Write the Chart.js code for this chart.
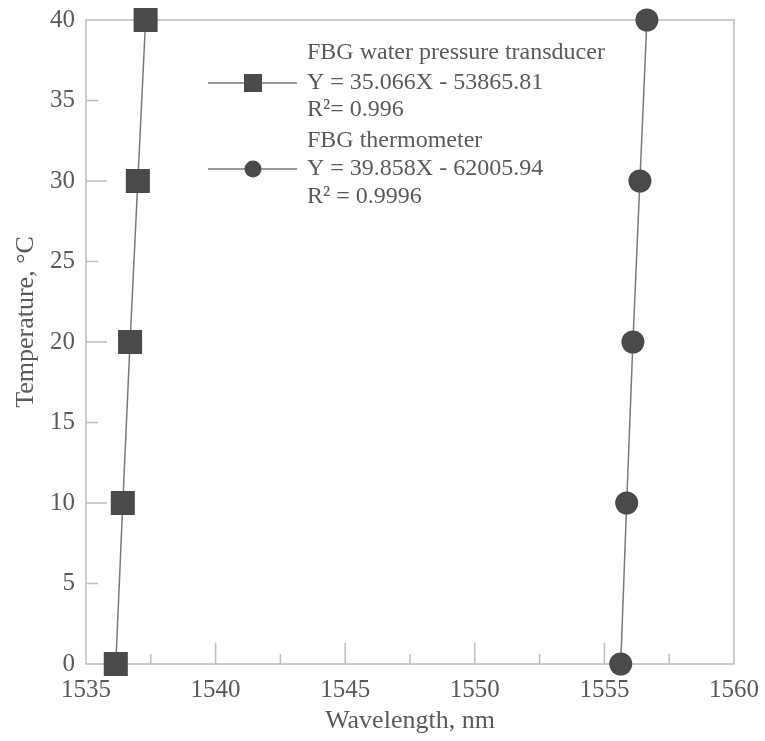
<!DOCTYPE html>
<html>
<head>
<meta charset="utf-8">
<script src="https://cdn.jsdelivr.net/npm/chart.js@4.4.1/dist/chart.umd.min.js"></script>
<style>
  html, body { margin: 0; padding: 0; background: #fff; }
  #wrap { width: 765px; height: 741px; }
</style>
</head>
<body>
<div id="wrap"><canvas id="chart"></canvas></div>
<script>
// Temperature steps (y) and measured wavelengths (x)
const temperatures = [0, 10, 20, 30, 40];
const transducerWavelength = [1536.15, 1536.42, 1536.70, 1537.00, 1537.30];
const thermometerWavelength = [1555.63, 1555.86, 1556.10, 1556.37, 1556.64];

const seriesNames = ["FBG water pressure transducer", "FBG thermometer"];
const transducerFit = ["Y = 35.066X - 53865.81", "R²= 0.996"];
const thermometerFit = ["Y = 39.858X - 62005.94", "R² = 0.9996"];

const xTitle = "Wavelength, nm";
const yTitle = "Temperature, °C";

const textColor = "#5a5a5a";
const markColor = "#4a4a4a";
const lineColor = "#7a7a7a";
const frameColor = "#bdbdbd";
const serif = "'Liberation Serif', 'Times New Roman', serif";

function points(xs) {
    return temperatures.map((t, i) => ({x: xs[i], y: t}));
}

// frame, inward ticks, legend and y title
const decor = {
    id: "decor",
    beforeDatasetsDraw(chart) {
        const {ctx, chartArea: a, scales: {x, y}} = chart;
        ctx.save();
        ctx.strokeStyle = frameColor;
        ctx.lineWidth = 1.5;
        ctx.strokeRect(a.left, a.top, a.right - a.left, a.bottom - a.top);

        ctx.beginPath();
        for (let v = 1537.5; v < 1560; v += 2.5) {
            const px = x.getPixelForValue(v);
            const len = v % 5 === 0 ? 21 : 10;
            ctx.moveTo(px, a.bottom);
            ctx.lineTo(px, a.bottom - len);
        }
        for (let v = 5; v < 40; v += 5) {
            const py = y.getPixelForValue(v);
            const len = v % 10 === 0 ? 21 : 12;
            ctx.moveTo(a.left, py);
            ctx.lineTo(a.left + len, py);
        }
        ctx.stroke();
        ctx.restore();
    },
    afterDraw(chart) {
        const ctx = chart.ctx;
        ctx.save();

        // legend
        const rows = [
            [seriesNames[0], 53], [transducerFit[0], 83], [transducerFit[1], 110],
            [seriesNames[1], 141], [thermometerFit[0], 169], [thermometerFit[1], 197]
        ];
        ctx.fillStyle = textColor;
        ctx.font = "24px " + serif;
        ctx.textBaseline = "middle";
        ctx.textAlign = "left";
        rows.forEach(r => ctx.fillText(r[0], 307, r[1]));

        ctx.strokeStyle = lineColor;
        ctx.lineWidth = 1.5;
        ctx.beginPath();
        ctx.moveTo(208, 83); ctx.lineTo(297, 83);
        ctx.moveTo(208, 169); ctx.lineTo(297, 169);
        ctx.stroke();
        ctx.fillStyle = markColor;
        ctx.fillRect(253 - 9, 83 - 9, 18, 18);
        ctx.beginPath();
        ctx.arc(253, 169, 8.5, 0, Math.PI * 2);
        ctx.fill();

        // y title
        ctx.translate(26, 322);
        ctx.rotate(-Math.PI / 2);
        ctx.textAlign = "center";
        ctx.fillStyle = textColor;
        ctx.font = "26px " + serif;
        ctx.fillText(yTitle, 0, 0);
        ctx.restore();
    }
};

new Chart(document.getElementById("chart"), {
    type: "scatter",
    data: {
        datasets: [
            {
                label: seriesNames[0],
                data: points(transducerWavelength),
                showLine: true,
                borderColor: lineColor,
                borderWidth: 1.5,
                pointStyle: "rect",
                pointRadius: 17,
                pointBackgroundColor: markColor,
                pointBorderWidth: 0,
                clip: false
            },
            {
                label: seriesNames[1],
                data: points(thermometerWavelength),
                showLine: true,
                borderColor: lineColor,
                borderWidth: 1.5,
                pointStyle: "circle",
                pointRadius: 11.5,
                pointBackgroundColor: markColor,
                pointBorderWidth: 0,
                clip: false
            }
        ]
    },
    options: {
        responsive: true,
        maintainAspectRatio: false,
        animation: false,
        events: [],
        layout: {padding: {top: 20, right: 31, left: 0, bottom: 0}},
        plugins: {legend: {display: false}, tooltip: {enabled: false}},
        scales: {
            x: {
                type: "linear",
                min: 1535,
                max: 1560,
                grid: {display: false, drawTicks: false},
                border: {display: false},
                ticks: {
                    stepSize: 5,
                    padding: 11,
                    color: textColor,
                    font: {family: serif, size: 25},
                    callback: v => String(v)
                },
                title: {
                    display: true,
                    text: xTitle,
                    color: textColor,
                    font: {family: serif, size: 26},
                    padding: {top: 0, bottom: 4}
                },
                afterFit(scale) {
                    scale.height = 77;
                    scale.paddingLeft = 0;
                    scale.paddingRight = 0;
                }
            },
            y: {
                min: 0,
                max: 40,
                grid: {display: false, drawTicks: false},
                border: {display: false},
                ticks: {
                    stepSize: 5,
                    padding: 11,
                    color: textColor,
                    font: {family: serif, size: 25}
                },
                afterFit(scale) {
                    scale.width = 86;
                    scale.paddingTop = 0;
                    scale.paddingBottom = 0;
                }
            }
        }
    },
    plugins: [decor]
});
</script>
</body>
</html>
